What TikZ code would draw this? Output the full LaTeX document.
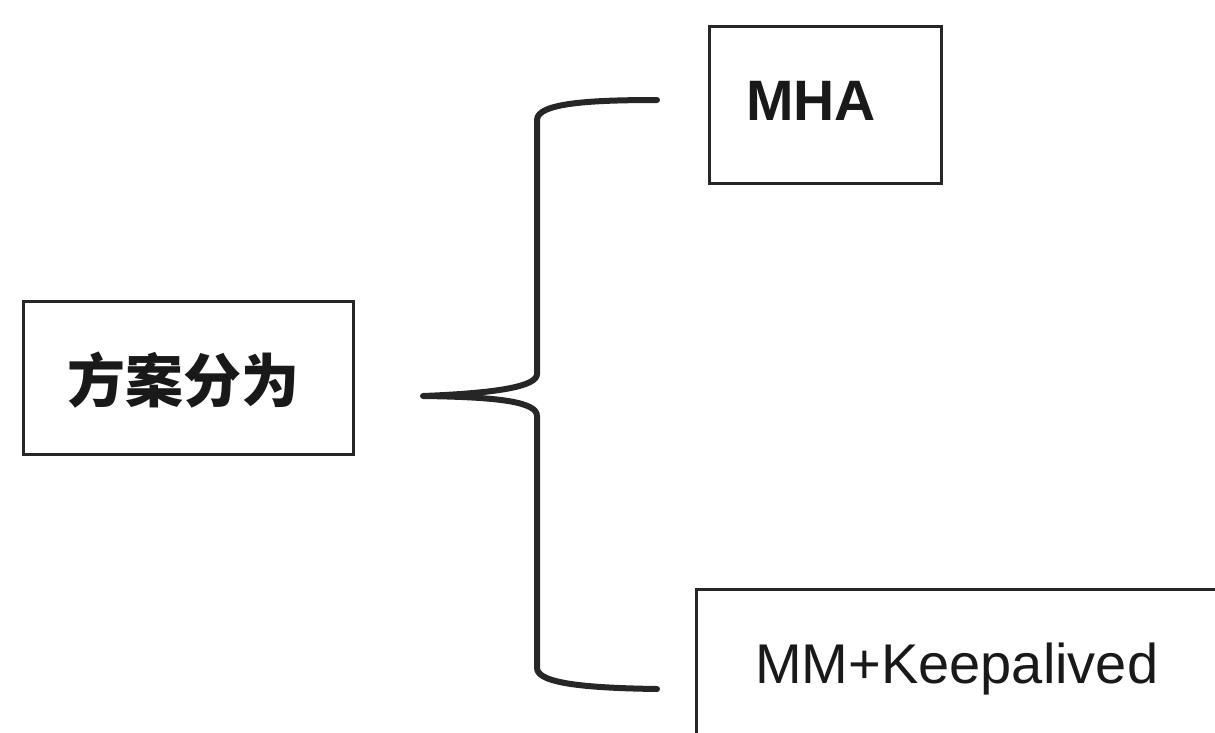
\documentclass[tikz,border=0pt]{standalone}
\usepackage{fontspec}
\setmainfont{Liberation Sans}
\newfontfamily\cjkfont{Noto Sans CJK SC}
\begin{document}
\begin{tikzpicture}[x=1pt,y=-1pt,
  boxframe/.style={draw=black!85, line width=3pt, rectangle, inner sep=0pt},
  latinlabel/.style={text=black!90, font=\fontsize{56}{60}\selectfont, inner sep=0pt},
  bracepath/.style={draw=black!85, line width=6pt, line cap=round, line join=round}]
  \useasboundingbox (0,0) rectangle (1215,732);
  \clip (0,0) rectangle (1215,732);

  % left box
  \node[boxframe, minimum width=330, minimum height=153, anchor=north west]
        (plan) at (22,300) {};
  \node[text=black!90, inner sep=0pt, font=\cjkfont\bfseries\fontsize{58}{60}\selectfont]
        (plantext) at (183,380) {方案分为};

  % upper box
  \node[boxframe, minimum width=232, minimum height=157, anchor=north west]
        (mha) at (708,25) {};
  \node[latinlabel, font=\bfseries\fontsize{57}{60}\selectfont, anchor=base west]
        (mhatext) at (746,120) {MHA};

  % lower box, running off the right and bottom edges
  \node[boxframe, minimum width=560, minimum height=190, anchor=north west]
        (mmk) at (695,588) {};
  \node[latinlabel, anchor=base west] (mmktext) at (755,683) {MM+Keepalived};

  % brace joining the left box to the two options
  \coordinate (tip) at ([xshift=68pt,yshift=-18pt]plan.east);
  \coordinate (topend) at ([xshift=-51pt,yshift=5pt]mha.west);
  \coordinate (botend) at ([xshift=-38pt]mmk.north west |- 0,689);
  \draw[bracepath]
    (topend) .. controls (590,100) and (537,103) .. (537,120)
    -- (537,374) .. controls (537,386) and (500,393) .. (tip)
    .. controls (500,397) and (537,402) .. (537,416)
    -- (537,668) .. controls (537,684) and (590,688) .. (botend);
\end{tikzpicture}
\end{document}
